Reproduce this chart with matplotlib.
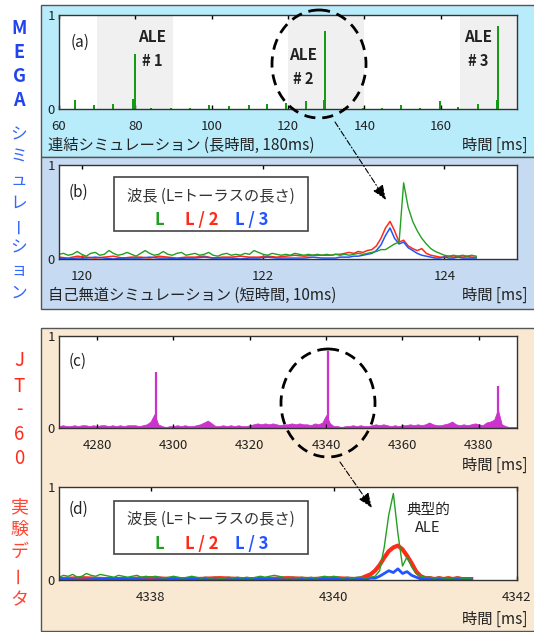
import numpy as np
import matplotlib
matplotlib.use("Agg")
import matplotlib.pyplot as plt
from matplotlib.patches import Rectangle, Ellipse

plt.rcParams['font.family'] = ['Noto Sans CJK JP', 'DejaVu Sans']

W, H = 534, 632

# ---- (a) coupled simulation, long run ----
a_xlim = (60, 180)
a_xticks = [60, 80, 100, 120, 140, 160]
a_ale_spans = [(70, 90), (120, 140), (165, 180)]
a_spike_t = [64.3, 69.2, 74.2, 79.5, 79.8, 84.1, 89.3, 94.2, 99.4, 104.5, 109.7, 114.6,
             119.6, 124.8, 129.5, 129.7, 134.7, 139.6, 144.6, 149.7, 154.6, 159.7, 164.5,
             169.7, 174.8, 175.0]
a_spike_h = [0.10, 0.04, 0.05, 0.11, 0.58, 0.01, 0.01, 0.01, 0.04, 0.03, 0.04, 0.05,
             0.06, 0.08, 0.10, 0.83, 0.01, 0.01, 0.01, 0.04, 0.01, 0.08, 0.02,
             0.05, 0.10, 0.88]

# ---- (b) self-consistent simulation, short run ----
b_xlim = (119.75, 124.8)
b_xticks = [120, 122, 124]
b_green = [0.05, 0.06, 0.04, 0.05, 0.08, 0.05, 0.03, 0.06, 0.07, 0.04,
           0.05, 0.09, 0.06, 0.04, 0.05, 0.07, 0.05, 0.03, 0.06, 0.09,
           0.06, 0.04, 0.05, 0.08, 0.05, 0.04, 0.06, 0.07, 0.04, 0.05,
           0.06, 0.04, 0.05, 0.07, 0.04, 0.03, 0.05, 0.06, 0.04, 0.05,
           0.04, 0.06, 0.05, 0.09, 0.07, 0.05, 0.04, 0.06, 0.05, 0.04,
           0.05, 0.04, 0.06, 0.05, 0.04, 0.05, 0.04, 0.05, 0.04, 0.05,
           0.04, 0.05, 0.04, 0.05, 0.04, 0.05, 0.06, 0.05, 0.06, 0.07,
           0.08, 0.10, 0.10, 0.13, 0.16, 0.18, 0.81, 0.55, 0.40, 0.30,
           0.22, 0.16, 0.11, 0.08, 0.06, 0.04, 0.03, 0.04, 0.03, 0.04,
           0.03, 0.04, 0.03]
b_red_base = [0.02, 0.01, 0.03, 0.02, 0.01, 0.02, 0.03, 0.01, 0.02, 0.02,
              0.01, 0.03, 0.02, 0.01, 0.02, 0.02, 0.03, 0.01, 0.02, 0.02,
              0.03, 0.02, 0.02, 0.03, 0.02, 0.03, 0.04, 0.03, 0.04, 0.04]
b_red_peak = [0.04, 0.05, 0.05, 0.06, 0.07, 0.06, 0.08, 0.07, 0.09, 0.10,
              0.14, 0.22, 0.33, 0.40, 0.30, 0.18, 0.20, 0.14, 0.11, 0.09,
              0.11, 0.06, 0.04, 0.03, 0.02, 0.02, 0.03, 0.02, 0.03, 0.02,
              0.03, 0.02, 0.02]
b_blue_base = [0.01, 0.00, 0.01, 0.01, 0.02, 0.01, 0.00, 0.01, 0.01, 0.01,
               0.02, 0.01, 0.01, 0.00, 0.01, 0.01, 0.02, 0.01, 0.01, 0.01,
               0.00, 0.01, 0.01, 0.02, 0.01, 0.01, 0.01, 0.01, 0.02, 0.01]
b_blue_peak = [0.01, 0.01, 0.02, 0.02, 0.02, 0.03, 0.03, 0.04, 0.05, 0.06,
               0.09, 0.15, 0.25, 0.33, 0.22, 0.16, 0.18, 0.12, 0.09, 0.06,
               0.04, 0.03, 0.02, 0.01, 0.01, 0.02, 0.01, 0.01, 0.02, 0.01,
               0.01, 0.01, 0.01]

# ---- (c) JT-60 experiment, long window ----
c_xlim = (4270, 4390)
c_xticks = [4280, 4300, 4320, 4340, 4360, 4380]
c_floor = [0.02, 0.03, 0.02, 0.02, 0.03, 0.02, 0.03, 0.03, 0.02, 0.03,
           0.02, 0.03, 0.03, 0.02, 0.03, 0.02, 0.03, 0.02, 0.03, 0.03,
           0.03, 0.02, 0.03, 0.04, 0.07, 0.15, 0.04, 0.02, 0.01, 0.02,
           0.02, 0.03, 0.02, 0.03, 0.02, 0.02, 0.03, 0.04, 0.06, 0.08,
           0.05, 0.02, 0.02, 0.03, 0.02, 0.03, 0.02, 0.03, 0.02, 0.02,
           0.03, 0.04, 0.05, 0.04, 0.05, 0.04, 0.05, 0.04, 0.03, 0.04,
           0.04, 0.05, 0.04, 0.05, 0.04, 0.04, 0.03, 0.05, 0.04, 0.06,
           0.14, 0.05, 0.02, 0.02, 0.01, 0.02, 0.02, 0.03, 0.02, 0.03,
           0.02, 0.02, 0.03, 0.04, 0.03, 0.04, 0.03, 0.02, 0.03, 0.02,
           0.03, 0.03, 0.04, 0.03, 0.04, 0.03, 0.04, 0.06, 0.04, 0.03,
           0.03, 0.04, 0.05, 0.07, 0.04, 0.03, 0.04, 0.03, 0.04, 0.05,
           0.04, 0.03, 0.06, 0.07, 0.09, 0.20, 0.04, 0.02, 0.01, 0.01,
           0.01]
c_spike_t = [4295.3, 4340.5, 4384.9]
c_spike_h = [0.61, 0.84, 0.46]

# ---- (d) JT-60 experiment, zoom on one ALE ----
d_xlim = (4337, 4342)
d_xticks = [4338, 4340, 4342]
d_green = [0.03, 0.05, 0.04, 0.06, 0.03, 0.04, 0.07, 0.05, 0.04, 0.06,
           0.05, 0.04, 0.03, 0.05, 0.04, 0.03, 0.04, 0.05, 0.03, 0.04,
           0.03, 0.04, 0.03, 0.02, 0.03, 0.04, 0.03, 0.02, 0.03, 0.04,
           0.03, 0.02, 0.03, 0.02, 0.03, 0.02, 0.02, 0.03, 0.02, 0.03,
           0.02, 0.03, 0.02, 0.03, 0.04, 0.03, 0.04, 0.05, 0.04, 0.03,
           0.02, 0.03, 0.02, 0.03, 0.02, 0.03, 0.02, 0.03, 0.04, 0.03,
           0.04, 0.03, 0.02, 0.03, 0.02, 0.03, 0.03, 0.02, 0.03, 0.04,
           0.10, 0.35, 0.70, 0.93, 0.50, 0.15, 0.25, 0.14, 0.07, 0.04,
           0.03, 0.03, 0.02, 0.03, 0.02, 0.02, 0.02, 0.03, 0.02, 0.02,
           0.02]
d_red_base = [0.01, 0.02, 0.01, 0.01, 0.02, 0.01, 0.01, 0.02, 0.01, 0.01,
              0.02, 0.01, 0.02, 0.01]
d_red_peak = [0.02, 0.04, 0.06, 0.10, 0.16, 0.24, 0.31, 0.35, 0.37, 0.33,
              0.26, 0.18, 0.09, 0.04, 0.02, 0.02, 0.01, 0.02, 0.01, 0.02,
              0.01, 0.02, 0.01, 0.01, 0.01]
d_blue_base = [0.01, 0.00, 0.01, 0.01, 0.00, 0.01, 0.01, 0.00, 0.01, 0.01,
               0.00, 0.01, 0.01, 0.01]
d_blue_peak = [0.01, 0.01, 0.02, 0.02, 0.04, 0.07, 0.10, 0.08, 0.12, 0.07,
               0.09, 0.05, 0.03, 0.01, 0.01, 0.01, 0.01, 0.01, 0.01, 0.01,
               0.01, 0.01, 0.01, 0.01, 0.01]

legend_title = "波長 (L=トーラスの長さ)"
legend_items = ["L", "L / 2", "L / 3"]
GREEN, RED, BLUE = "#22a022", "#ff2a1a", "#2255ff"
MAG = "#cc33cc"
TXT = "#222222"


def px_rect(x0, y0, x1, y1):
    return [x0 / W, 1 - y1 / H, (x1 - x0) / W, (y1 - y0) / H]


def style(ax, xlim, xticks):
    ax.set_xlim(*xlim)
    ax.set_ylim(0, 1)
    ax.set_xticks(xticks)
    ax.set_yticks([0, 1])
    ax.tick_params(axis='x', direction='in', top=True, bottom=True, length=3,
                   width=1, pad=8, labelsize=9.5, labelcolor=TXT)
    ax.tick_params(axis='y', length=0, pad=3, labelsize=9.5, labelcolor=TXT)
    for s in ax.spines.values():
        s.set_color('#333333')
        s.set_linewidth(1)


def legend_box(ax, y0, y1, ytitle, yitems):
    ax.add_patch(Rectangle((0.120, y0), 0.423, y1 - y0, transform=ax.transAxes,
                           fc='white', ec='#444444', lw=1.2, zorder=5))
    ax.text(0.331, ytitle, legend_title, transform=ax.transAxes, ha='center',
            va='center', fontsize=11, color='#333333', zorder=6)
    for xx, lab, col in zip([0.219, 0.312, 0.421], legend_items, [GREEN, RED, BLUE]):
        ax.text(xx, yitems, lab, transform=ax.transAxes, ha='center', va='center',
                fontsize=12, color=col, weight='bold', zorder=6)


fig = plt.figure(figsize=(W / 100, H / 100), dpi=100)

bg = fig.add_axes([0, 0, 1, 1], zorder=0)
bg.set_xlim(0, W)
bg.set_ylim(H, 0)
bg.axis('off')
for x0, y0, x1, y1, fc in [(40.5, 5, 560, 157, '#b9ecfb'),
                           (40.5, 157, 560, 309, '#c6daf1'),
                           (40.5, 328, 560, 631, '#fae9d2')]:
    bg.add_patch(Rectangle((x0, y0), x1 - x0, y1 - y0, fc=fc, ec='#555555', lw=1))

# side labels
for ch, y in zip("MEGA", [28, 52, 76, 100]):
    bg.text(19, y, ch, ha='center', va='center', fontsize=13, weight='bold', color='#2244ee')
for ch, y in zip("シミュレーション", np.linspace(135, 293, 8)):
    bg.text(19, y, ch, ha='center', va='center', fontsize=12, color='#3366ff',
            rotation=90 if ch == 'ー' else 0)
for ch, y in zip("JT-60", [360, 386, 410, 435, 458]):
    bg.text(19, y, ch, ha='center', va='center', fontsize=13.5, color='#ff2a1a')
for ch, y in zip("実験データ", [507, 530, 552, 575, 600]):
    bg.text(19, y, ch, ha='center', va='center', fontsize=13, color='#ff4433',
            rotation=90 if ch == 'ー' else 0)

# bottom captions
bg.text(48, 145, "連結シミュレーション (長時間, 180ms)", ha='left', va='center', fontsize=11, color=TXT)
bg.text(48, 295, "自己無道シミュレーション (短時間, 10ms)", ha='left', va='center', fontsize=11, color=TXT)
for y in [145, 295, 465, 619]:
    bg.text(528, y, "時間 [ms]", ha='right', va='center', fontsize=11, color=TXT)

# ---- panel (a)
ax = fig.add_axes(px_rect(59, 15, 517, 109), zorder=2)
style(ax, a_xlim, a_xticks)
for lo, hi in a_ale_spans:
    ax.axvspan(lo, hi, color='#f0f0f0', lw=0, zorder=0)
ax.vlines(a_spike_t, 0, a_spike_h, color='#119911', lw=1.4)
ax.text(0.025, 0.71, "(a)", transform=ax.transAxes, fontsize=11, color=TXT, va='center')
for xx, ya, yn, num in [(84.5, 0.77, 0.51, "# 1"), (123.9, 0.57, 0.32, "# 2"), (169.9, 0.77, 0.51, "# 3")]:
    ax.text(xx, ya, "ALE", ha='center', va='center', fontsize=11, color=TXT, weight='bold')
    ax.text(xx, yn, num, ha='center', va='center', fontsize=10.5, color=TXT, weight='bold')

# ---- panel (b)
ax = fig.add_axes(px_rect(59, 165, 517, 259), zorder=2)
style(ax, b_xlim, b_xticks)
bt = np.linspace(119.75, 124.35, len(b_green))
bt_base = np.linspace(119.75, 122.65, len(b_red_base))
bt_peak = np.linspace(122.75, 124.35, len(b_red_peak))
ax.plot(np.r_[bt_base, bt_peak], b_red_base + b_red_peak, color=RED, lw=1.1)
ax.plot(np.r_[bt_base, bt_peak], b_blue_base + b_blue_peak, color=BLUE, lw=1.1)
ax.plot(bt, b_green, color=GREEN, lw=1.0)
ax.text(0.02, 0.71, "(b)", transform=ax.transAxes, fontsize=11, color=TXT, va='center')
legend_box(ax, 0.298, 0.872, 0.67, 0.415)

# ---- panel (c)
ax = fig.add_axes(px_rect(59, 336, 517, 428), zorder=2)
style(ax, c_xlim, c_xticks)
ct = np.linspace(4270, 4390, len(c_floor))
ax.fill_between(ct, 0, c_floor, color=MAG, lw=0.6)
ax.vlines(c_spike_t, 0, c_spike_h, color=MAG, lw=1.6)
ax.text(0.02, 0.72, "(c)", transform=ax.transAxes, fontsize=11, color=TXT, va='center')

# ---- panel (d)
ax = fig.add_axes(px_rect(59, 487, 517, 580), zorder=2)
style(ax, d_xlim, d_xticks)
dt = np.linspace(4337.0, 4341.5, len(d_green))
dt_base = np.linspace(4337.0, 4340.25, len(d_red_base))
dt_peak = np.linspace(4340.3, 4341.5, len(d_red_peak))
ax.plot(np.r_[dt_base, dt_peak], d_red_base + d_red_peak, color=RED, lw=3)
ax.plot(np.r_[dt_base, dt_peak], d_blue_base + d_blue_peak, color=BLUE, lw=2)
ax.plot(dt, d_green, color=GREEN, lw=1.0)
ax.text(0.02, 0.755, "(d)", transform=ax.transAxes, fontsize=11, color=TXT, va='center')
legend_box(ax, 0.277, 0.851, 0.649, 0.383)
ax.text(0.806, 0.755, "典型的", transform=ax.transAxes, ha='center', va='center', fontsize=10.5, color=TXT)
ax.text(0.806, 0.564, "ALE", transform=ax.transAxes, ha='center', va='center', fontsize=10.5, color=TXT)

# ---- overlay: dashed ellipses and arrows
fg = fig.add_axes([0, 0, 1, 1], zorder=10)
fg.set_xlim(0, W)
fg.set_ylim(H, 0)
fg.axis('off')
fg.patch.set_visible(False)
for cx, cy in [(319, 64), (328, 403)]:
    fg.add_patch(Ellipse((cx, cy), 94, 108, fill=False, ec='black', lw=2, ls=(0, (4, 2.5))))
for (x0, y0), (x1, y1) in [((335, 122), (386, 200)), ((340, 462), (372, 508))]:
    fg.annotate('', xy=(x1, y1), xytext=(x0, y0),
                arrowprops=dict(arrowstyle='-|>,head_length=0.9,head_width=0.35',
                                color='black', lw=0.8, ls=(0, (5, 2, 1, 2)),
                                shrinkA=0, shrinkB=0))

fig.savefig("out.png", dpi=100)
